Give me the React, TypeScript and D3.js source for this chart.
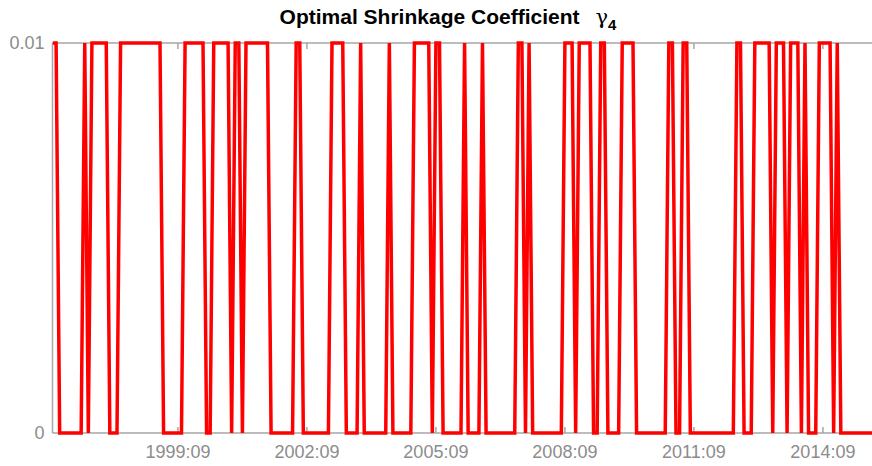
import * as d3 from "d3";
import React, { useEffect, useRef } from "react";

// monthly values, first point is 1996:10
const y1996 = [0.01, 0.01, 0];
const y1997 = [0, 0, 0, 0, 0, 0, 0.01, 0, 0.01, 0.01, 0.01, 0.01];
const y1998 = [0.01, 0, 0, 0, 0.01, 0.01, 0.01, 0.01, 0.01, 0.01, 0.01, 0.01];
const y1999 = [0.01, 0.01, 0.01, 0.01, 0, 0, 0, 0, 0, 0, 0.01, 0.01];
const y2000 = [0.01, 0.01, 0.01, 0.01, 0, 0, 0.01, 0.01, 0.01, 0.01, 0.01, 0];
const y2001 = [0.01, 0.01, 0, 0.01, 0.01, 0.01, 0.01, 0.01, 0.01, 0.01, 0, 0];
const y2002 = [0, 0, 0, 0, 0, 0.01, 0.01, 0, 0, 0, 0, 0];
const y2003 = [0, 0, 0, 0.01, 0.01, 0.01, 0.01, 0, 0, 0, 0, 0.01];
const y2004 = [0, 0, 0, 0, 0, 0, 0, 0.01, 0, 0, 0, 0];
const y2005 = [0, 0, 0.01, 0.01, 0.01, 0.01, 0.01, 0, 0.01, 0.01, 0, 0];
const y2006 = [0, 0, 0, 0, 0.01, 0, 0, 0, 0, 0.01, 0, 0];
const y2007 = [0, 0, 0, 0, 0, 0, 0, 0.01, 0.01, 0, 0.01, 0];
const y2008 = [0, 0, 0, 0, 0, 0, 0, 0, 0.01, 0.01, 0.01, 0];
const y2009 = [0.01, 0.01, 0.01, 0.01, 0, 0, 0.01, 0.01, 0, 0, 0, 0];
const y2010 = [0.01, 0.01, 0.01, 0.01, 0, 0, 0, 0, 0, 0, 0, 0];
const y2011 = [0, 0.01, 0.01, 0, 0, 0.01, 0.01, 0, 0, 0, 0, 0];
const y2012 = [0, 0, 0, 0, 0, 0, 0, 0, 0.01, 0.01, 0, 0];
const y2013 = [0, 0.01, 0.01, 0.01, 0.01, 0.01, 0, 0.01, 0.01, 0.01, 0, 0.01];
const y2014 = [0.01, 0.01, 0, 0.01, 0, 0, 0, 0.01, 0.01, 0.01, 0.01, 0];
const y2015 = [0.01, 0, 0, 0, 0, 0, 0, 0, 0, 0, 0];

const gamma4 = [
  ...y1996, ...y1997, ...y1998, ...y1999, ...y2000, ...y2001, ...y2002,
  ...y2003, ...y2004, ...y2005, ...y2006, ...y2007, ...y2008, ...y2009,
  ...y2010, ...y2011, ...y2012, ...y2013, ...y2014, ...y2015,
];

// month index (from 1996:10) of each x tick
const xTickMonths = [35, 71, 107, 143, 179, 215];
const xTickLabels = ["1999:09", "2002:09", "2005:09", "2008:09", "2011:09", "2014:09"];
const yTicks = [0, 0.01];
const yTickLabels = ["0", "0.01"];

export default function App() {
  const ref = useRef<SVGSVGElement>(null);

  useEffect(() => {
    document.body.style.margin = "0";
    const width = 872,
      height = 466;
    const padding = { top: 43, right: 0, bottom: 33, left: 52.5 };

    const svg = d3.select(ref.current);
    svg.selectAll("*").remove();

    const x = d3.scaleLinear()
      .domain([0, 228.7])
      .range([padding.left, width - padding.right]);
    const y = d3.scaleLinear()
      .domain([0, 0.01])
      .range([height - padding.bottom, padding.top]);

    const axisColor = "#a6a6a6";
    const labelColor = "#8c8c8c";
    const font = "'Liberation Sans', Arial, sans-serif";

    // box lines
    svg.append("line")
      .attr("x1", padding.left).attr("x2", width)
      .attr("y1", y(0.01)).attr("y2", y(0.01))
      .attr("stroke", axisColor).attr("stroke-width", 1.5);
    svg.append("line")
      .attr("x1", padding.left).attr("x2", width)
      .attr("y1", y(0)).attr("y2", y(0))
      .attr("stroke", axisColor).attr("stroke-width", 1.5);
    svg.append("line")
      .attr("x1", padding.left).attr("x2", padding.left)
      .attr("y1", y(0.01)).attr("y2", y(0))
      .attr("stroke", axisColor).attr("stroke-width", 1.5);

    // x ticks (bottom up, top down) + labels
    const xt = svg.append("g");
    xTickMonths.forEach((m, i) => {
      xt.append("line")
        .attr("x1", x(m)).attr("x2", x(m))
        .attr("y1", y(0)).attr("y2", y(0) - 6)
        .attr("stroke", axisColor).attr("stroke-width", 1.5);
      xt.append("line")
        .attr("x1", x(m)).attr("x2", x(m))
        .attr("y1", y(0.01)).attr("y2", y(0.01) + 6)
        .attr("stroke", axisColor).attr("stroke-width", 1.5);
      xt.append("text")
        .attr("x", x(m))
        .attr("y", y(0) + 25)
        .attr("text-anchor", "middle")
        .attr("font-family", font)
        .attr("font-size", "18px")
        .attr("fill", labelColor)
        .text(xTickLabels[i]);
    });

    // y labels
    yTicks.forEach((t, i) => {
      svg.append("text")
        .attr("x", padding.left - 8)
        .attr("y", y(t))
        .attr("dy", "0.35em")
        .attr("text-anchor", "end")
        .attr("font-family", font)
        .attr("font-size", "18px")
        .attr("fill", labelColor)
        .text(yTickLabels[i]);
    });

    svg.append("clipPath")
      .attr("id", "plotclip")
      .append("rect")
      .attr("x", padding.left)
      .attr("y", 0)
      .attr("width", width - padding.left)
      .attr("height", height);

    const line = d3.line<number>()
      .x((d, i) => x(i))
      .y((d) => y(d));

    svg.append("path")
      .datum(gamma4)
      .attr("clip-path", "url(#plotclip)")
      .attr("fill", "none")
      .attr("stroke", "#ff0000")
      .attr("stroke-width", 3.5)
      .attr("d", line);

    // title
    const title = svg.append("text")
      .attr("x", 448)
      .attr("y", 24)
      .attr("text-anchor", "middle")
      .attr("font-family", font)
      .attr("font-size", "21px")
      .attr("font-weight", "bold")
      .attr("fill", "#000");
    title.append("tspan").text("Optimal Shrinkage Coefficient");
    title.append("tspan")
      .attr("dx", 16)
      .attr("font-family", "'DejaVu Serif', serif")
      .attr("font-weight", "normal")
      .text("γ");
    title.append("tspan")
      .attr("dy", 6)
      .attr("font-size", "15px")
      .text("4");
  }, []);

  return (
    <div>
      <svg ref={ref} width={872} height={466} style={{ display: "block" }}></svg>
    </div>
  );
}
